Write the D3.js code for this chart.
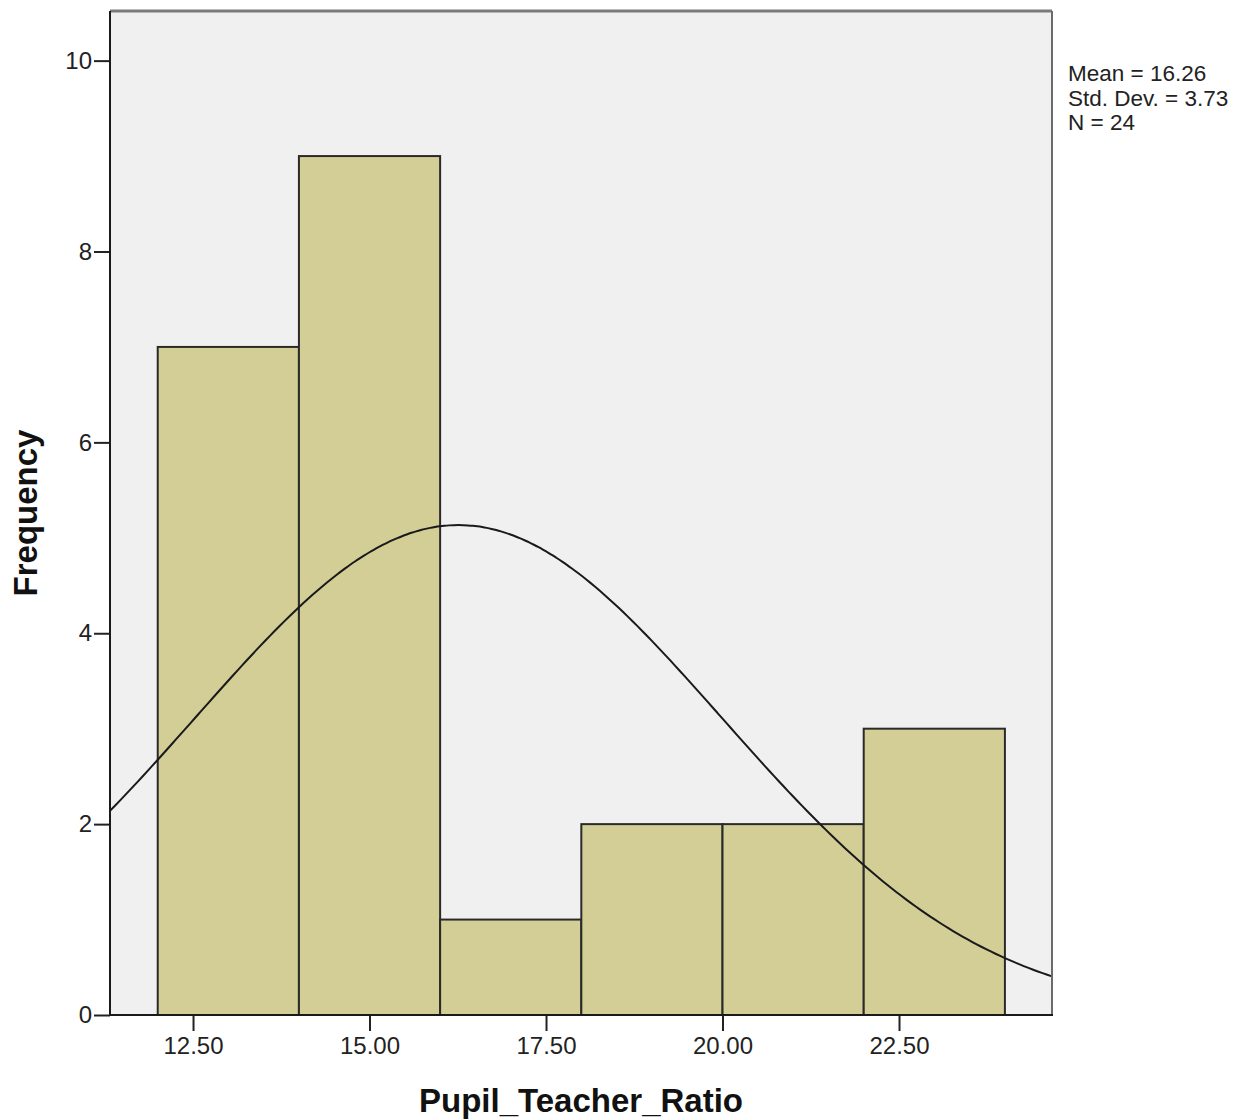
<!DOCTYPE html>
<html>
<head>
<meta charset="utf-8">
<script src="https://cdn.jsdelivr.net/npm/d3@7"></script>
<style>
  body { margin: 0; background: #fff; }
  svg { display: block; font-family: "Liberation Sans", Arial, sans-serif; }
</style>
</head>
<body>
<div id="chart"></div>
<script>
const binStarts = [12, 14, 16, 18, 20, 22];
const binWidth = 2;
const frequencies = [7, 9, 1, 2, 2, 3];
const xTicks = [12.5, 15, 17.5, 20, 22.5];
const yTicks = [0, 2, 4, 6, 8, 10];
const stats = { mean: 16.26, sd: 3.73, n: 24 };
const statLines = ["Mean = 16.26", "Std. Dev. = 3.73", "N = 24"];

const width = 1258;
const height = 1120;
const plot = { left: 110, right: 1052, top: 11, bottom: 1015 };

const svg = d3.select("#chart")
  .append("svg")
  .attr("width", width)
  .attr("height", height);

const x = d3.scaleLinear()
  .domain([11.324, 24.667])
  .range([plot.left, plot.right]);

const y = d3.scaleLinear()
  .domain([0, 10.52])
  .range([plot.bottom, plot.top]);

svg.append("rect")
  .attr("x", plot.left)
  .attr("y", plot.top)
  .attr("width", plot.right - plot.left)
  .attr("height", plot.bottom - plot.top)
  .attr("fill", "#f0f0f0");

svg.append("clipPath")
  .attr("id", "plot-clip")
  .append("rect")
  .attr("x", plot.left)
  .attr("y", plot.top)
  .attr("width", plot.right - plot.left)
  .attr("height", plot.bottom - plot.top);

// histogram bars
svg.append("g")
  .selectAll("rect")
  .data(binStarts.map((s, i) => ({ start: s, count: frequencies[i] })))
  .join("rect")
  .attr("x", (d) => x(d.start))
  .attr("y", (d) => y(d.count))
  .attr("width", (d) => x(d.start + binWidth) - x(d.start))
  .attr("height", (d) => y(0) - y(d.count))
  .attr("fill", "#d3ce96")
  .attr("stroke", "#2a2a2a")
  .attr("stroke-width", 2);

// fitted normal curve from the stated mean / sd / N
const pdf = (v) => Math.exp(-0.5 * ((v - stats.mean) / stats.sd) ** 2) / (stats.sd * Math.sqrt(2 * Math.PI));
const curveX = d3.range(0, 201).map((i) => x.domain()[0] + (x.domain()[1] - x.domain()[0]) * i / 200);

svg.append("path")
  .datum(curveX)
  .attr("clip-path", "url(#plot-clip)")
  .attr("fill", "none")
  .attr("stroke", "#1a1a1a")
  .attr("stroke-width", 2)
  .attr("d", d3.line()
    .x((d) => x(d))
    .y((d) => y(stats.n * binWidth * pdf(d)))
    .curve(d3.curveBasis));

// frame: top and right in grey
svg.append("line")
  .attr("x1", plot.left).attr("x2", plot.right)
  .attr("y1", plot.top).attr("y2", plot.top)
  .attr("stroke", "#7a7a7a").attr("stroke-width", 3);
svg.append("line")
  .attr("x1", plot.right).attr("x2", plot.right)
  .attr("y1", plot.top).attr("y2", plot.bottom)
  .attr("stroke", "#6a6a6a").attr("stroke-width", 2);

const xAxis = svg.append("g")
  .attr("transform", `translate(0,${plot.bottom})`)
  .call(d3.axisBottom(x).tickValues(xTicks).tickFormat(d3.format(".2f")).tickSize(16).tickPadding(6));

const yAxis = svg.append("g")
  .attr("transform", `translate(${plot.left},0)`)
  .call(d3.axisLeft(y).tickValues(yTicks).tickFormat(d3.format("d")).tickSize(16).tickPadding(2));

[xAxis, yAxis].forEach((ax) => {
  ax.select(".domain").remove();
  ax.selectAll("line").attr("stroke", "#222").attr("stroke-width", 2);
  ax.selectAll("text").attr("font-size", 24).attr("fill", "#222").attr("font-family", "Liberation Sans, Arial, sans-serif");
});

// left and bottom axis lines
svg.append("line")
  .attr("x1", plot.left).attr("x2", plot.left)
  .attr("y1", plot.top).attr("y2", plot.bottom + 1)
  .attr("stroke", "#1a1a1a").attr("stroke-width", 2);
svg.append("line")
  .attr("x1", plot.left).attr("x2", plot.right + 1)
  .attr("y1", plot.bottom).attr("y2", plot.bottom)
  .attr("stroke", "#1a1a1a").attr("stroke-width", 2);

svg.append("text")
  .attr("x", (plot.left + plot.right) / 2)
  .attr("y", 1112)
  .attr("text-anchor", "middle")
  .attr("font-size", 33)
  .attr("font-weight", "bold")
  .attr("fill", "#111")
  .text("Pupil_Teacher_Ratio");

svg.append("text")
  .attr("transform", `translate(37,${(plot.top + plot.bottom) / 2}) rotate(-90)`)
  .attr("text-anchor", "middle")
  .attr("font-size", 33)
  .attr("font-weight", "bold")
  .attr("fill", "#111")
  .text("Frequency");

svg.append("g")
  .selectAll("text")
  .data(statLines)
  .join("text")
  .attr("x", 1068)
  .attr("y", (d, i) => 81 + i * 24.5)
  .attr("font-size", 22.5)
  .attr("fill", "#222")
  .text((d) => d);
</script>
</body>
</html>
